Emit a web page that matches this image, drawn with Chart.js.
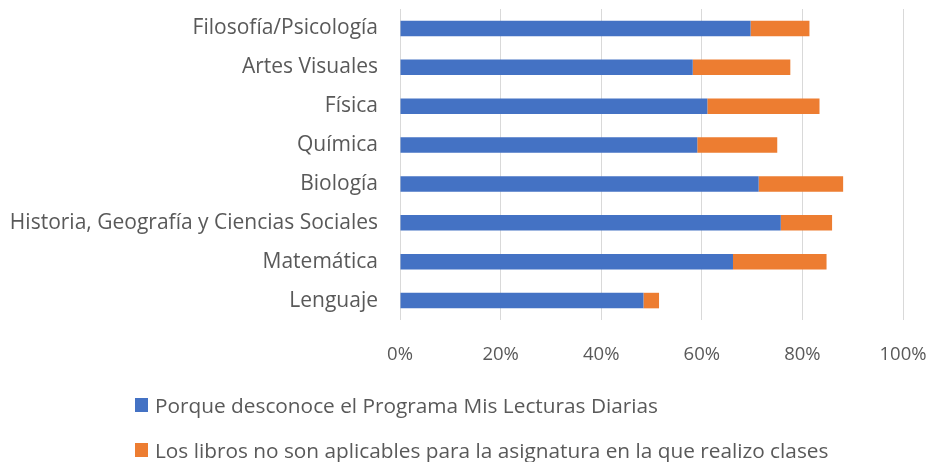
<!DOCTYPE html>
<html>
<head>
<meta charset="utf-8">
<script src="https://cdn.jsdelivr.net/npm/chart.js@4.4.0/dist/chart.umd.min.js"></script>
<style>
    html, body { margin: 0; padding: 0; background: #fff; }
    #wrap { position: relative; width: 932px; height: 462px; }
    #legend { position: absolute; left: 135px; top: 390px; font-family: 'Open Sans', sans-serif; color: #595959; font-size: 20.8px; }
    .item { display: flex; align-items: center; height: 30px; margin-bottom: 15px; }
    .box { width: 13px; height: 14px; margin-right: 7px; }
</style>
</head>
<body>
<div id="wrap">
    <canvas id="chart" width="932" height="462"></canvas>
    <div id="legend"></div>
</div>
<script>
// Data
const categories = [
    'Filosofía/Psicología',
    'Artes Visuales',
    'Física',
    'Química',
    'Biología',
    'Historia, Geografía y Ciencias Sociales',
    'Matemática',
    'Lenguaje'
];
const desconoce = [69.7, 58.2, 61.1, 59.1, 71.3, 75.7, 66.2, 48.4];
const noAplicables = [11.7, 19.4, 22.3, 15.9, 16.8, 10.2, 18.6, 3.1];
const seriesNames = [
    'Porque desconoce el Programa Mis Lecturas Diarias',
    'Los libros no son aplicables para la asignatura en la que realizo clases'
];
const tickLabels = ['0%', '20%', '40%', '60%', '80%', '100%'];

const colors = {
    blue: '#4472C4',
    orange: '#ED7D31',
    text: '#595959',
    grid: '#d9d9d9'
};

Chart.defaults.font.family = "'Open Sans', sans-serif";
Chart.defaults.color = colors.text;

const chart = new Chart(document.getElementById('chart').getContext('2d'), {
    type: 'bar',
    data: {
        labels: categories,
        datasets: [
            { label: seriesNames[0], data: desconoce, backgroundColor: colors.blue },
            { label: seriesNames[1], data: noAplicables, backgroundColor: colors.orange }
        ]
    },
    options: {
        indexAxis: 'y',
        responsive: false,
        animation: false,
        barPercentage: 0.4,
        categoryPercentage: 1,
        layout: { padding: { top: 9, right: 29, bottom: 92, left: 0 } },
        scales: {
            x: {
                stacked: true,
                min: 0,
                max: 100,
                grid: { color: colors.grid, drawTicks: false },
                border: { display: false },
                afterFit: s => {
                    s.height = 50;
                    s.paddingLeft = 0;
                    s.paddingRight = 0;
                },
                afterBuildTicks: s => {
                    s.ticks = tickLabels.map((t, i) => ({ value: i * 20 }));
                },
                ticks: {
                    padding: 24,
                    font: { size: 18.5 },
                    callback: (v, i) => tickLabels[i]
                }
            },
            y: {
                stacked: true,
                grid: { display: false, drawTicks: false },
                border: { display: false },
                afterFit: s => {
                    s.width = 400;
                    s.paddingTop = 0;
                    s.paddingBottom = 0;
                },
                ticks: { padding: 22, font: { size: 21 } }
            }
        },
        plugins: {
            legend: { display: false },
            tooltip: { enabled: false }
        }
    }
});

// HTML legend built from the chart's datasets
const legendEl = document.getElementById('legend');
chart.data.datasets.forEach(ds => {
    const row = document.createElement('div');
    row.className = 'item';
    row.innerHTML = '<span class="box" style="background:' + ds.backgroundColor + '"></span>' + ds.label;
    legendEl.appendChild(row);
});
</script>
</body>
</html>
